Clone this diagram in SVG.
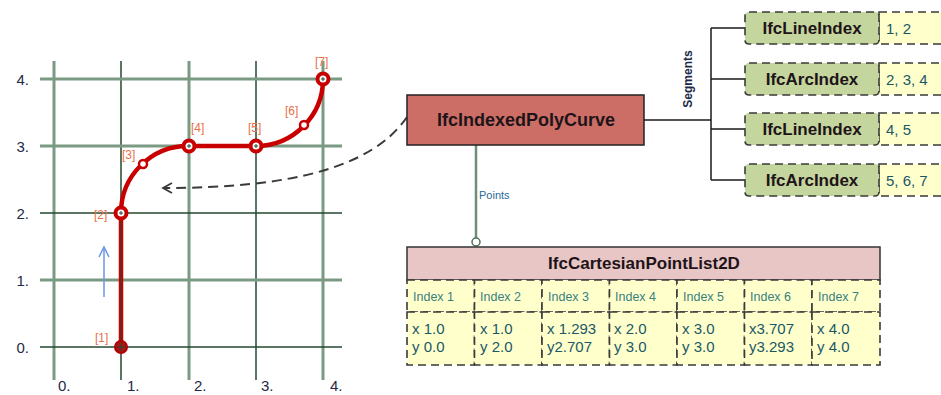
<svg xmlns="http://www.w3.org/2000/svg" width="941" height="395" viewBox="0 0 941 395">
  <style>
    .gl { stroke: #7a9a84; stroke-width: 3; }
    .gd { stroke: #23482f; stroke-width: 1.5; }
    .axis { font-family: "Liberation Sans", Arial, sans-serif; font-size: 15px; fill: #1c2a48; }
    .plab { font-family: "Liberation Sans", Arial, sans-serif; font-size: 12px; fill: #e8704a; }
    .curve { fill: none; stroke: #c80000; stroke-width: 4.5; }
    .pt { fill: #ffffff; stroke: #c80000; stroke-width: 4; }
    .pts { fill: #ffffff; stroke: #c80000; stroke-width: 2.5; }
    .cross { stroke: #23482f; stroke-width: 1; }
    .title { font-family: "Liberation Sans", Arial, sans-serif; font-weight: bold; fill: #1e1418; text-anchor: middle; }
    .dash { stroke: #3a3a3a; stroke-width: 1.6; stroke-dasharray: 8 5; }
    .seg { fill: #c4d59e; }
    .yel { fill: #ffffcc; }
    .val { font-family: "Liberation Sans", Arial, sans-serif; font-size: 15px; fill: #1a5868; }
    .idx { font-family: "Liberation Sans", Arial, sans-serif; font-size: 12.5px; fill: #3a8080; }
    .conn { fill: none; stroke: #1a1a1a; stroke-width: 1.5; }
  </style>

  <!-- coordinate grid -->
  <g id="grid">
    <line class="gl" x1="54" y1="61" x2="54" y2="380"/>
    <line class="gd" x1="121" y1="61" x2="121" y2="380"/>
    <line class="gl" x1="189" y1="61" x2="189" y2="380"/>
    <line class="gd" x1="256" y1="61" x2="256" y2="380"/>
    <line class="gl" x1="323" y1="61" x2="323" y2="380"/>
    <line class="gl" x1="40" y1="79" x2="342" y2="79"/>
    <line class="gl" x1="40" y1="146" x2="342" y2="146"/>
    <line class="gd" x1="40" y1="213" x2="342" y2="213"/>
    <line class="gl" x1="40" y1="280" x2="342" y2="280"/>
    <line class="gd" x1="40" y1="347" x2="342" y2="347"/>
    <text class="axis" x="29" y="85" text-anchor="end">4.</text>
    <text class="axis" x="29" y="152" text-anchor="end">3.</text>
    <text class="axis" x="29" y="219" text-anchor="end">2.</text>
    <text class="axis" x="29" y="286" text-anchor="end">1.</text>
    <text class="axis" x="29" y="353" text-anchor="end">0.</text>
    <text class="axis" x="58" y="391">0.</text>
    <text class="axis" x="127" y="391">1.</text>
    <text class="axis" x="194" y="391">2.</text>
    <text class="axis" x="261" y="391">3.</text>
    <text class="axis" x="330" y="391">4.</text>
  </g>

  <!-- indexed poly curve drawn on the grid -->
  <g id="curve">
    <path class="curve" d="M121,347 L121,213 A67,67 0 0 1 189,146 L256,146 A67,67 0 0 0 323,79"/>
    <line x1="121" y1="347" x2="121" y2="213" stroke="#23482f" stroke-width="1"/>
    <circle cx="121" cy="347" r="6" fill="#a41818" stroke="#b00000" stroke-width="2"/>
    <line class="cross" x1="117" y1="347" x2="125" y2="347"/>
    <line class="cross" x1="121" y1="343" x2="121" y2="351"/>
    <circle class="pt" cx="121" cy="213" r="5.5"/>
    <circle class="pts" cx="143" cy="164" r="4"/>
    <circle class="pt" cx="189" cy="146" r="5.5"/>
    <circle class="pt" cx="256" cy="146" r="5.5"/>
    <circle class="pts" cx="304" cy="125" r="4"/>
    <circle class="pt" cx="323" cy="79" r="5.5"/>
    <path class="cross" d="M119,213h4M121,211v4M187,146h4M189,144v4M254,146h4M256,144v4M321,79h4M323,77v4"/>
    <text class="plab" x="95" y="342">[1]</text>
    <text class="plab" x="94" y="219">[2]</text>
    <text class="plab" x="122" y="159">[3]</text>
    <text class="plab" x="191" y="132">[4]</text>
    <text class="plab" x="248" y="132">[5]</text>
    <text class="plab" x="285" y="115">[6]</text>
    <text class="plab" x="315" y="66">[7]</text>
    <!-- direction of travel -->
    <g stroke="#6a96e0" stroke-width="1.5" fill="none">
      <line x1="104" y1="297" x2="104" y2="248"/>
      <polyline points="99,257 104,247 109,257"/>
    </g>
  </g>

  <!-- connectors -->
  <g id="connectors">
    <path d="M407,117 C372,168 290,188 164,188" fill="none" stroke="#3a3a3a" stroke-width="2" stroke-dasharray="10 6"/>
    <polyline points="172,183 163,188 172,193" fill="none" stroke="#3a3a3a" stroke-width="1.8"/>
    <line x1="476" y1="145" x2="476" y2="238" stroke="#6e8e78" stroke-width="2.5"/>
    <circle cx="476" cy="242" r="4" fill="#ffffff" stroke="#4e6e58" stroke-width="1.5"/>
    <text x="479" y="199" font-family="Liberation Sans, Arial, sans-serif" font-size="11" fill="#2a6a9a">Points</text>
    <path class="conn" d="M644,120 H711 M711,28 V180 M711,28 H745 M711,79 H745 M711,129 H745 M711,180 H745"/>
    <text transform="translate(692,79) rotate(-90)" text-anchor="middle" font-family="Liberation Sans, Arial, sans-serif" font-size="12" font-weight="bold" fill="#1c2a48">Segments</text>
  </g>

  <g id="IfcIndexedPolyCurve">
    <rect x="407" y="95" width="237" height="50" fill="#cc6e66" stroke="#222" stroke-width="1.5"/>
    <text class="title" x="526" y="126" font-size="18">IfcIndexedPolyCurve</text>
  </g>

  <g id="segment1">
    <rect class="yel dash" x="879" y="12" width="80" height="32"/>
    <rect class="seg dash" x="745" y="12" width="134" height="32" rx="4"/>
    <text class="title" x="812" y="34" font-size="17">IfcLineIndex</text>
    <text class="val" x="886" y="34">1, 2</text>
  </g>
  <g id="segment2">
    <rect class="yel dash" x="879" y="63" width="80" height="32"/>
    <rect class="seg dash" x="745" y="63" width="134" height="32" rx="4"/>
    <text class="title" x="812" y="85" font-size="17">IfcArcIndex</text>
    <text class="val" x="886" y="85">2, 3, 4</text>
  </g>
  <g id="segment3">
    <rect class="yel dash" x="879" y="113" width="80" height="32"/>
    <rect class="seg dash" x="745" y="113" width="134" height="32" rx="4"/>
    <text class="title" x="812" y="135" font-size="17">IfcLineIndex</text>
    <text class="val" x="886" y="135">4, 5</text>
  </g>
  <g id="segment4">
    <rect class="yel dash" x="879" y="164" width="80" height="32"/>
    <rect class="seg dash" x="745" y="164" width="134" height="32" rx="4"/>
    <text class="title" x="812" y="186" font-size="17">IfcArcIndex</text>
    <text class="val" x="886" y="186">5, 6, 7</text>
  </g>

  <g id="IfcCartesianPointList2D">
    <rect x="407" y="247" width="473" height="33" fill="#e8c6c6" stroke="#333" stroke-width="1.5"/>
    <text class="title" x="644" y="269" font-size="17">IfcCartesianPointList2D</text>
    <g class="yel dash">
      <rect x="407" y="280" width="67.5" height="32"/>
      <rect x="474.5" y="280" width="67.5" height="32"/>
      <rect x="542" y="280" width="67.5" height="32"/>
      <rect x="609.5" y="280" width="67.5" height="32"/>
      <rect x="677" y="280" width="67.5" height="32"/>
      <rect x="744.5" y="280" width="67.5" height="32"/>
      <rect x="812" y="280" width="68" height="32"/>
      <rect x="407" y="312" width="67.5" height="53"/>
      <rect x="474.5" y="312" width="67.5" height="53"/>
      <rect x="542" y="312" width="67.5" height="53"/>
      <rect x="609.5" y="312" width="67.5" height="53"/>
      <rect x="677" y="312" width="67.5" height="53"/>
      <rect x="744.5" y="312" width="67.5" height="53"/>
      <rect x="812" y="312" width="68" height="53"/>
    </g>
    <g class="idx">
      <text x="413" y="301">Index 1</text>
      <text x="480" y="301">Index 2</text>
      <text x="548" y="301">Index 3</text>
      <text x="615" y="301">Index 4</text>
      <text x="683" y="301">Index 5</text>
      <text x="750" y="301">Index 6</text>
      <text x="818" y="301">Index 7</text>
    </g>
    <g class="val">
      <text x="412" y="334">x 1.0</text>
      <text x="412" y="352">y 0.0</text>
      <text x="480" y="334">x 1.0</text>
      <text x="480" y="352">y 2.0</text>
      <text x="547" y="334">x 1.293</text>
      <text x="547" y="352">y2.707</text>
      <text x="614" y="334">x 2.0</text>
      <text x="614" y="352">y 3.0</text>
      <text x="682" y="334">x 3.0</text>
      <text x="682" y="352">y 3.0</text>
      <text x="749" y="334">x3.707</text>
      <text x="749" y="352">y3.293</text>
      <text x="817" y="334">x 4.0</text>
      <text x="817" y="352">y 4.0</text>
    </g>
  </g>
</svg>
